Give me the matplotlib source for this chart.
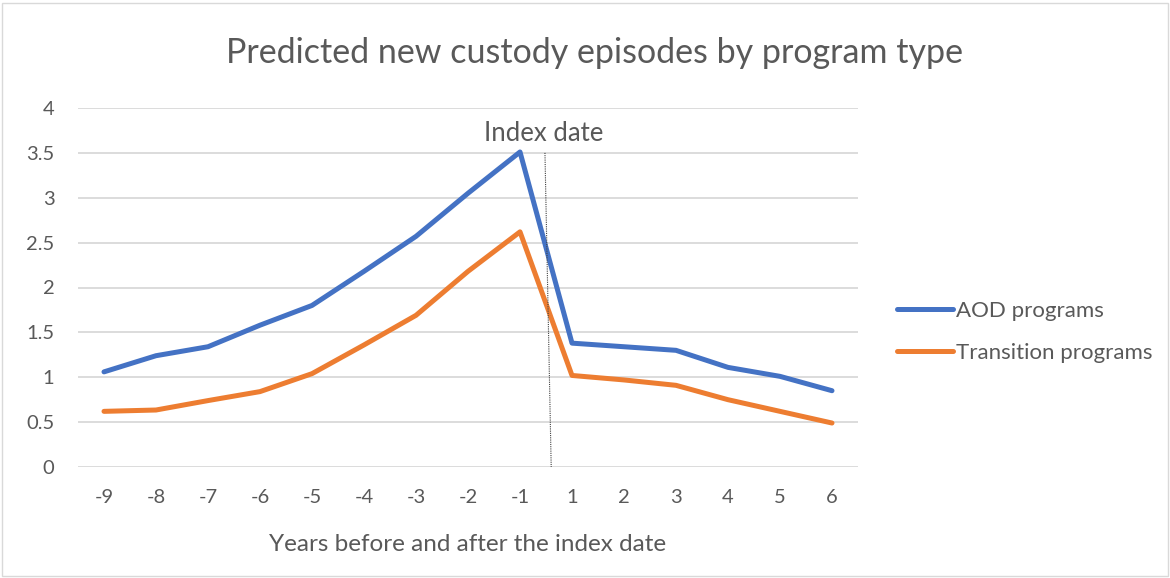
import matplotlib.pyplot as plt
from matplotlib.patches import Rectangle

# data
years = ["-9", "-8", "-7", "-6", "-5", "-4", "-3", "-2", "-1", "1", "2", "3", "4", "5", "6"]
aod = [1.06, 1.24, 1.34, 1.58, 1.80, 2.18, 2.57, 3.05, 3.51, 1.38, 1.34, 1.30, 1.11, 1.01, 0.85]
transition = [0.62, 0.635, 0.74, 0.84, 1.04, 1.36, 1.69, 2.18, 2.62, 1.02, 0.97, 0.91, 0.75, 0.62, 0.49]
yticks = [0, 0.5, 1, 1.5, 2, 2.5, 3, 3.5, 4]
ytick_labels = ["0", "0.5", "1", "1.5", "2", "2.5", "3", "3.5", "4"]

plt.rcParams["font.family"] = ["Lato", "DejaVu Sans"]
text_col = "#595959"

fig = plt.figure(figsize=(11.7, 5.78), dpi=100)
ax = fig.add_axes([78 / 1170, 1 - 467 / 578, 780 / 1170, 359 / 578])

x = list(range(len(years)))
ax.plot(x, aod, color="#4472C4", lw=3.6, label="AOD programs", solid_capstyle="round")
ax.plot(x, transition, color="#ED7D31", lw=3.6, label="Transition programs", solid_capstyle="round")

# index date marker
ax.plot([8.48, 8.6], [3.5, 0], color="#404040", lw=0.8, ls=(0, (1, 1)))
ax.text(8.45, 3.72, "Index date", ha="center", va="center", fontsize=18.5, color=text_col)

ax.set_xlim(-0.5, len(years) - 0.5)
ax.set_ylim(0, 4)
ax.set_xticks(x)
ax.set_xticklabels(years)
ax.set_yticks(yticks)
ax.set_yticklabels(ytick_labels)
ax.tick_params(length=0, labelsize=14.5, colors=text_col)
ax.tick_params(axis="x", pad=16)
ax.tick_params(axis="y", pad=17)
ax.grid(axis="y", color="#D9D9D9", lw=1.3)
ax.set_axisbelow(True)
for s in ax.spines.values():
    s.set_visible(False)

ax.set_xlabel("Years before and after the index date", fontsize=17.5, color=text_col, labelpad=20)
fig.text(0.508, 1 - 53 / 578, "Predicted new custody episodes by program type",
         ha="center", va="center", fontsize=24.5, color=text_col)

ax.legend(loc="center left", bbox_to_anchor=(1.05, 0.376), frameon=False,
          borderaxespad=0, borderpad=0,
          fontsize=16, labelcolor=text_col, handlelength=2.5, handletextpad=0.15,
          labelspacing=1.0)

fig.patches.append(Rectangle((0.002, 0.004), 0.996, 0.99, transform=fig.transFigure,
                             fill=False, edgecolor="#D9D9D9", lw=1))

fig.savefig("out.png", dpi=100)
